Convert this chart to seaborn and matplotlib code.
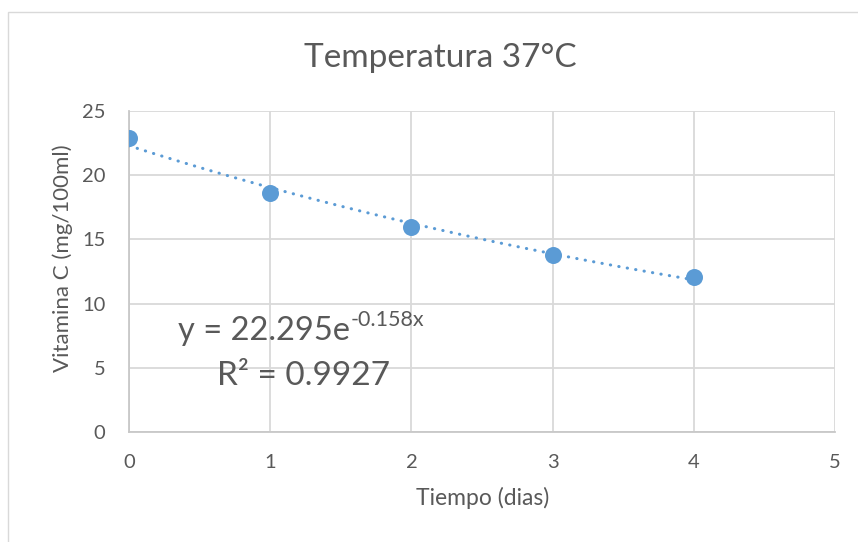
import numpy as np
import pandas as pd
import matplotlib
matplotlib.use("Agg")
import matplotlib.pyplot as plt
from matplotlib.patches import Rectangle
import seaborn as sns

# Data
dias = [0, 1, 2, 3, 4]
vitamina_c = [22.9, 18.6, 16.0, 13.8, 12.1]
trend_a = 22.295
trend_b = -0.158
eq_base = "y = 22.295e"
eq_exp = "-0.158x"
r2_text = "R² = 0.9927"
title = "Temperatura 37°C"
xlabel = "Tiempo (dias)"
ylabel = "Vitamina C (mg/100ml)"
xticks = [0, 1, 2, 3, 4, 5]
yticks = [0, 5, 10, 15, 20, 25]

sns.set_theme(style="white")
plt.rcParams['font.family'] = ['Lato', 'DejaVu Sans']

BLUE = "#5B9BD5"
TXT = "#595959"
GRID = "#D9D9D9"

W, H = 858, 542
fig = plt.figure(figsize=(W / 100, H / 100), dpi=100)
fig.patch.set_facecolor("white")

# outer chart border (cropped at right/bottom)
fig.add_artist(Rectangle((8 / W, -0.05), 1.2, 1.05 - 12 / H,
                         transform=fig.transFigure, fill=False,
                         edgecolor=GRID, linewidth=1.0))

ax = fig.add_axes([129 / W, 1 - 432 / H, (835 - 129) / W, (432 - 111) / H])

df = pd.DataFrame({"x": dias, "y": vitamina_c})
xt = np.linspace(dias[0], dias[-1], 200)
trend = pd.DataFrame({"x": xt, "y": trend_a * np.exp(trend_b * xt)})

sns.lineplot(data=trend, x="x", y="y", ax=ax, color=BLUE, linewidth=2.2,
             zorder=3, linestyle=(0, (0.1, 2.7)), dash_capstyle="round")
sns.scatterplot(data=df, x="x", y="y", ax=ax, color=BLUE, s=150,
                edgecolor=BLUE, linewidth=0, zorder=4)

ax.set_xlim(0, 5)
ax.set_ylim(0, 25)
ax.set_xticks(xticks)
ax.set_yticks(yticks)
ax.grid(True, color=GRID, linewidth=1.3)
ax.set_axisbelow(True)
for s in ax.spines.values():
    s.set_visible(False)
for side in ("left", "bottom"):
    ax.spines[side].set_visible(True)
    ax.spines[side].set_color("#C8C8C8")
    ax.spines[side].set_linewidth(1.3)
ax.tick_params(axis="both", length=0, labelsize=14.5, labelcolor=TXT)
ax.tick_params(axis="y", pad=17)
ax.tick_params(axis="x", pad=16)

ax.set_xlabel(xlabel, fontsize=16.5, color=TXT)
ax.set_ylabel(ylabel, fontsize=16, color=TXT)
ax.xaxis.set_label_coords((483 - 129) / (835 - 129), -(498 - 432) / (432 - 111))
ax.yaxis.set_label_coords(-(129 - 63) / (835 - 129), (432 - 258) / (432 - 111))
ax.xaxis.label.set_verticalalignment("center")
ax.yaxis.label.set_verticalalignment("center")

fig.text(440 / W, 1 - 58 / H, title, fontsize=24, color=TXT,
         ha="center", va="center")

# trendline label
t1 = fig.text(178 / W, 1 - 340 / H, eq_base, fontsize=23.5, color=TXT,
              ha="left", va="baseline")
fig.canvas.draw()
bb = t1.get_window_extent(renderer=fig.canvas.get_renderer())
fig.text(bb.x1 / W + 1 / W, 1 - 326 / H, eq_exp, fontsize=15.5, color=TXT,
         ha="left", va="baseline")
fig.text(304 / W, 1 - 385 / H, r2_text, fontsize=24, color=TXT,
         ha="center", va="baseline")

fig.savefig("out.png", dpi=100)
